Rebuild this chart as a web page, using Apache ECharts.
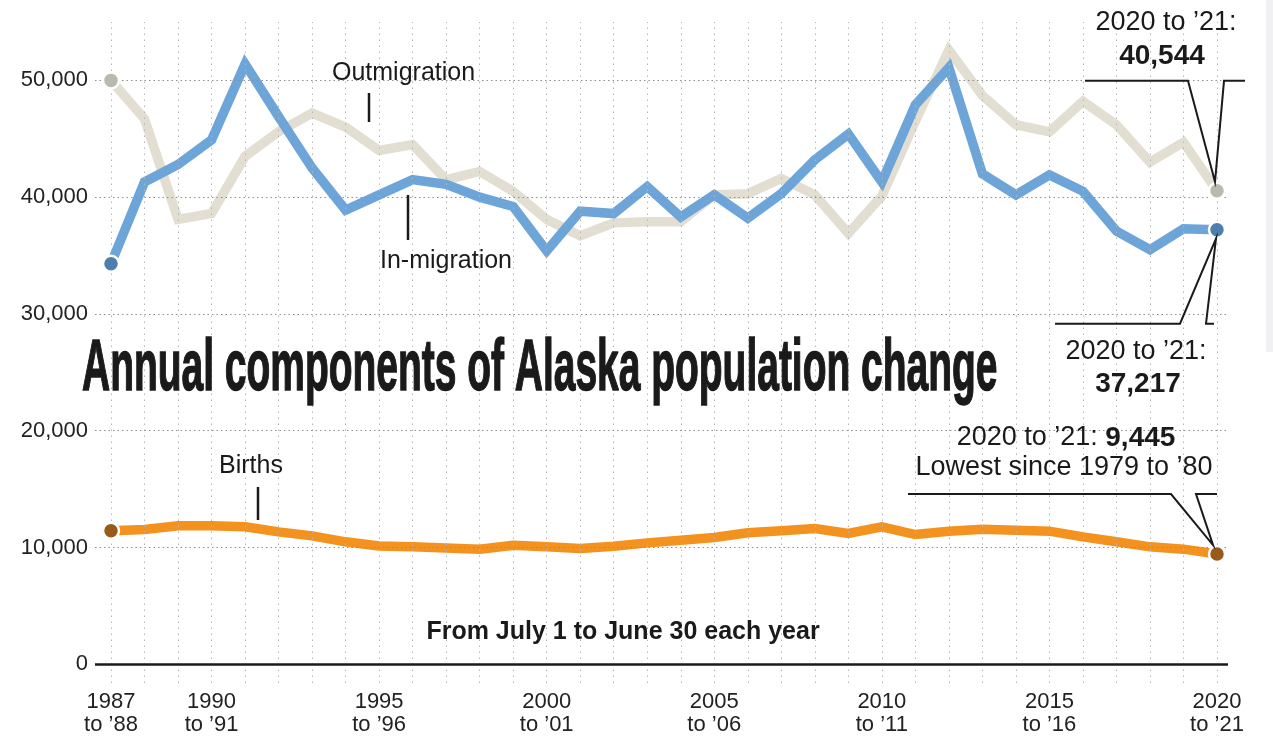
<!DOCTYPE html>
<html><head><meta charset="utf-8">
<script src="https://cdn.jsdelivr.net/npm/echarts@6/dist/echarts.min.js"></script>
<style>html,body{margin:0;padding:0;background:#fff}#c{width:1273px;height:738px}</style>
</head><body><div id="c"></div>
<script>
const years = [1987,1988,1989,1990,1991,1992,1993,1994,1995,1996,1997,1998,1999,2000,2001,2002,2003,2004,2005,2006,2007,2008,2009,2010,2011,2012,2013,2014,2015,2016,2017,2018,2019,2020];
const inMigration = [34300,41300,42800,44900,51400,46900,42500,38900,40200,41500,41100,40000,39200,35400,38800,38600,40900,38300,40200,38200,40300,43200,45400,41300,47900,51100,42000,40200,41900,40500,37100,35500,37300,37217];
const outMigration = [50000,46700,38100,38600,43500,45600,47200,46000,44000,44500,41500,42200,40500,38100,36700,37800,37900,37900,40200,40300,41600,40200,36900,40100,46500,52600,48700,46200,45600,48200,46200,43000,44700,40544];
const births = [11430,11540,11860,11860,11770,11340,11000,10490,10140,10060,9970,9860,10200,10060,9910,10110,10400,10630,10860,11260,11430,11630,11200,11770,11110,11400,11570,11490,11400,10910,10490,10060,9860,9445];
const xTickYears = [1987,1990,1995,2000,2005,2010,2015,2020];
const xTickLabels = ["1987\nto \u201988","1990\nto \u201991","1995\nto \u201996","2000\nto \u201901","2005\nto \u201906","2010\nto \u201911","2015\nto \u201916","2020\nto \u201921"];
const yTicks = [0,10000,20000,30000,40000,50000];
const yGridLines = [10000,20000,30000,40000,50000];

const FONT = "'Liberation Sans', Arial, sans-serif";
const C_IN = '#6ea5d9', C_IN_DOT = '#4e7eae';
const C_OUT = '#e2dfd2', C_OUT_DOT = '#bab9ae';
const C_B = '#f3921f', C_B_DOT = '#99591b';

const chart = echarts.init(document.getElementById('c'), null, {renderer:'canvas'});
const last = years.length - 1;
const pairs = arr => years.map((y,i)=>[y,arr[i]]);
const ends = arr => [[years[0],arr[0]],[years[last],arr[last]]];

const markLines = []
  .concat(years.map(y => ({xAxis:y, lineStyle:{color:'#b4b4b4', width:1, type:[1.5,4.5]}})))
  .concat(yGridLines.map(v => ({yAxis:v, lineStyle:{color:'#8f8f8f', width:1, type:[1.5,3]}})))
  .concat([{yAxis:0, lineStyle:{color:'#1a1a1a', width:2.5, type:'solid'}}]);

function lineSeries(name, arr, color, z){
  return {name, type:'line', data:pairs(arr), symbol:'none', z,
    lineStyle:{color, width:9.5, join:'miter', miterLimit:4, cap:'butt'}, animation:false, silent:true};
}
function dotSeries(arr, color, z){
  return {type:'scatter', data:ends(arr), symbolSize:16, z,
    itemStyle:{color, borderColor:'#fff', borderWidth:2.5, opacity:1}, animation:false, silent:true};
}

chart.setOption({
  animation:false,
  grid:{left:95, right:45, top:22, bottom:55},
  xAxis:{type:'value', min:1986.5226, max:2020.328,
    axisLine:{show:false}, axisTick:{show:false}, splitLine:{show:false},
    axisLabel:{customValues:xTickYears, fontFamily:FONT, fontSize:22, color:'#222', lineHeight:23, margin:7,
      formatter:v => xTickLabels[xTickYears.indexOf(v)]}},
  yAxis:{type:'value', min:-1600, max:55000,
    axisLine:{show:false}, axisTick:{show:false}, splitLine:{show:false},
    axisLabel:{customValues:yTicks, fontFamily:FONT, fontSize:22, color:'#222', margin:7,
      formatter:v => v.toLocaleString('en-US')}},
  series:[
    {type:'line', data:[], z:1, silent:true, markLine:{symbol:'none', silent:true, label:{show:false}, animation:false, data:markLines}},
    lineSeries('Outmigration', outMigration, C_OUT, 3),
    lineSeries('In-migration', inMigration, C_IN, 4),
    lineSeries('Births', births, C_B, 4),
    dotSeries(outMigration, C_OUT_DOT, 6),
    dotSeries(inMigration, C_IN_DOT, 6),
    dotSeries(births, C_B_DOT, 6)
  ]
});

const toPx = (x,y) => chart.convertToPixel({xAxisIndex:0, yAxisIndex:0}, [x,y]);
const pOut = toPx(years[last], outMigration[last]);
const pIn = toPx(years[last], inMigration[last]);
const pB = toPx(years[last], births[last]);
const ls = {stroke:'#1a1a1a', lineWidth:2, fill:null};
const txt = (x,y,text,size,weight,align,extra) => ({type:'text', x, y, z:20,
  style:Object.assign({text, font:(weight||'normal')+' '+size+'px '+FONT, fill:'#1a1a1a', align:align||'left', verticalAlign:'middle'}, extra||{})});
const tick = (x,y1,y2) => ({type:'line', z:20, shape:{x1:x,y1:y1,x2:x,y2:y2}, style:{stroke:'#1a1a1a', lineWidth:2.5}});

chart.setOption({graphic:[
  {type:'rect', z:0, shape:{x:1266, y:0, width:7, height:352}, style:{fill:'#f1f1f3'}},
  {type:'text', x:82, y:370, z:20, scaleX:0.541, style:{text:'Annual components of Alaska population change',
    font:'bold 72px '+FONT, fill:'#1a1a1a', stroke:'#1a1a1a', lineWidth:1.5, align:'left', verticalAlign:'middle'}},
  txt(623, 632, 'From July 1 to June 30 each year', 25, 'bold', 'center', {}),
  txt(332, 73, 'Outmigration', 25),
  tick(369, 93, 122),
  txt(380, 261, 'In-migration', 25),
  tick(408, 195, 240),
  txt(219, 466, 'Births', 25),
  tick(258, 487, 520),
  // Outmigration callout
  txt(1166, 23, '2020 to \u201921:', 27, 'normal', 'center'),
  txt(1162, 56, outMigration[last].toLocaleString('en-US'), 28, 'bold', 'center'),
  {type:'polyline', z:20, shape:{points:[[pOut[0]-132,pOut[1]-110],[pOut[0]-29,pOut[1]-110],[pOut[0]-2,pOut[1]-9],[pOut[0]+7,pOut[1]-110],[pOut[0]+28,pOut[1]-110]]}, style:ls},
  // In-migration callout
  {type:'polyline', z:20, shape:{points:[[pIn[0]-162,pIn[1]+94],[pIn[0]-37,pIn[1]+94],[pIn[0]-1,pIn[1]+9],[pIn[0]-11,pIn[1]+94],[pIn[0]-3,pIn[1]+94]]}, style:ls},
  txt(1136, 352, '2020 to \u201921:', 27, 'normal', 'center'),
  txt(1138, 384, inMigration[last].toLocaleString('en-US'), 28, 'bold', 'center'),
  // Births callout
  {type:'text', x:1066, y:438, z:20, style:{text:'{r|2020 to \u201921: }{b|'+births[last].toLocaleString('en-US')+'}', align:'center', verticalAlign:'middle',
    rich:{r:{font:'normal 27px '+FONT, fill:'#1a1a1a'}, b:{font:'bold 28px '+FONT, fill:'#1a1a1a'}}}},
  txt(1064, 468, 'Lowest since 1979 to \u201980', 27, 'normal', 'center'),
  {type:'polyline', z:20, shape:{points:[[pB[0]-309,pB[1]-60],[pB[0]-46,pB[1]-60],[pB[0]-4,pB[1]-9],[pB[0]-21,pB[1]-60],[pB[0],pB[1]-60]]}, style:ls}
]});
</script></body></html>
